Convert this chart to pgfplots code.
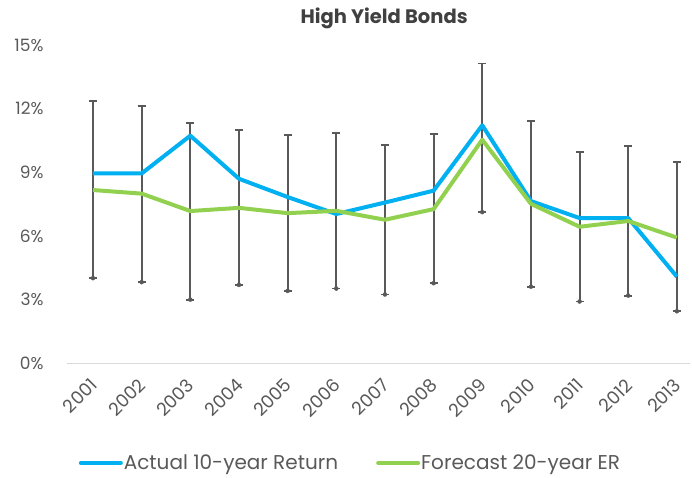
\documentclass[border=0pt]{standalone}
\usepackage{pgfplots}
\usepackage{pgfplotstable}
\pgfplotsset{compat=1.18}
\usepackage{fontspec}
\setmainfont{Poppins}
\definecolor{actblue}{RGB}{0,176,240}
\definecolor{fcgreen}{RGB}{146,208,80}
\definecolor{barg}{RGB}{89,89,89}
\definecolor{txtg}{RGB}{89,89,89}
\definecolor{titg}{RGB}{64,64,64}
\definecolor{axg}{RGB}{217,217,217}

% year index, actual 10-year return, forecast 20-year ER, range low, range high
\pgfplotstableread{
x  act    fc     lo    hi
0  8.95   8.17   4.02  12.35
1  8.95   8.00   3.83  12.11
2  10.73  7.18   3.01  11.33
3  8.70   7.33   3.70  11.01
4  7.84   7.08   3.42  10.75
5  7.04   7.19   3.53  10.86
6  7.58   6.77   3.25  10.29
7  8.14   7.27   3.78  10.79
8  11.22  10.54  7.13  14.13
9  7.65   7.52   3.62  11.42
10 6.85   6.44   2.92  9.98
11 6.85   6.71   3.20  10.26
12 4.09   5.93   2.46  9.47
}\hyb

\begin{document}
\begin{tikzpicture}
\path[use as bounding box] (0,0) rectangle (692pt,477pt);
\begin{axis}[
    at={(67pt,113.5pt)}, anchor=south west,
    scale only axis, width=623pt, height=318.5pt,
    xmin=-0.534, xmax=12.27, ymin=0, ymax=15,
    axis line style={draw=none},
    major tick length=0pt,
    ytick={0,3,6,9,12,15},
    yticklabels={0\%,3\%,6\%,9\%,12\%,15\%},
    xtick={0,...,12},
    xticklabels={2001,2002,2003,2004,2005,2006,2007,2008,2009,2010,2011,2012,2013},
    tick label style={font=\fontsize{17}{19}\selectfont, text=txtg},
    yticklabel style={anchor=east, xshift=-20pt},
    xticklabel style={font=\fontsize{18}{20}\selectfont, xshift=3pt, yshift=-16pt, rotate=45, anchor=east},
    title={\textbf{High Yield Bonds}},
    title style={at={(0.509,1.066)}, anchor=center, font=\fontsize{19.5}{21}\selectfont, text=titg},
    legend columns=2,
    legend style={at={(0.455,-0.312)}, anchor=center, draw=none, fill=none,
        font=\fontsize{20}{22}\selectfont, text=txtg,
        /tikz/every odd column/.append style={column sep=-1pt},
        /tikz/every even column/.append style={column sep=36pt}},
    legend image code/.code={\draw[#1, line cap=round] (0pt,0pt) -- (40pt,0pt);},
]
\draw[axg, line width=1.5pt] (rel axis cs:0,0) -- (rel axis cs:1,0);
\addplot[barg, only marks, mark=none, forget plot,
    error bars/.cd, y dir=both, y explicit,
    error bar style={draw=barg, line width=1.9pt},
    error mark options={rotate=90, draw=barg, line width=1.9pt, mark size=4pt}]
    table[x=x, y=lo, y error plus expr=\thisrow{hi}-\thisrow{lo}, y error minus expr=0] {\hyb};
\addplot[actblue, line width=4pt, line join=round] table[x=x, y=act] {\hyb};
\addlegendentry{Actual 10-year Return}
\addplot[fcgreen, line width=4pt, line join=round] table[x=x, y=fc] {\hyb};
\addlegendentry{Forecast 20-year ER}
\end{axis}
\end{tikzpicture}
\end{document}
